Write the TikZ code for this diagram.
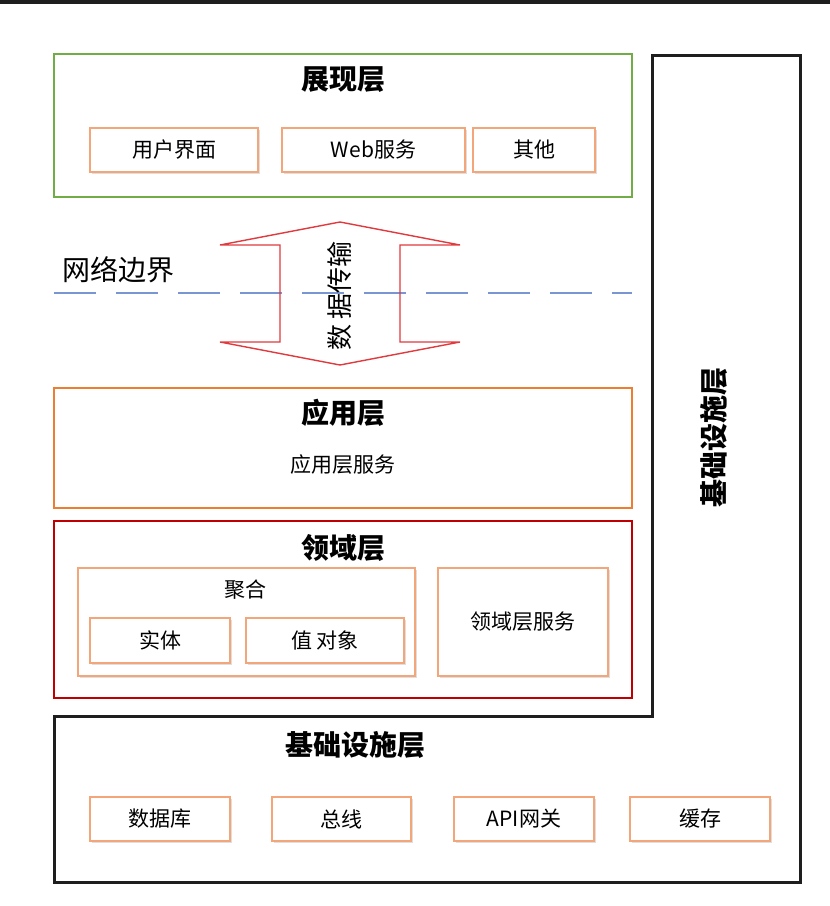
\documentclass[tikz,border=0pt]{standalone}
\usepackage{fontspec}
\setmainfont{Noto Sans CJK SC}
\usetikzlibrary{shadows}
\definecolor{presgreen}{HTML}{70AD47}
\definecolor{apporange}{HTML}{ED7D31}
\definecolor{domred}{HTML}{C00000}
\definecolor{subor}{HTML}{F2A679}
\definecolor{arrred}{HTML}{E0393E}
\definecolor{netblue}{HTML}{7A96D2}
\definecolor{infrablack}{HTML}{1E1E1E}
\begin{document}
\begin{tikzpicture}[x=1pt,y=-1pt,
  layerbox/.style={draw, line width=2.8pt, minimum width=578pt, inner sep=0pt},
  subbox/.style={draw=subor, line width=2pt, fill=white, inner sep=0pt, minimum height=44pt,
     font=\fontsize{21}{24}\selectfont,
     drop shadow={shadow xshift=1.5pt, shadow yshift=-1.5pt, opacity=0.25, fill=gray}},
  title/.style={font=\fontsize{28}{32}\selectfont\bfseries, inner sep=0pt},
  plain/.style={font=\fontsize{21}{24}\selectfont, inner sep=0pt}]
\useasboundingbox (0,0) rectangle (830,906);
\fill[infrablack] (0,0) rectangle (830,4);

% infrastructure L-shape
\draw[infrablack, line width=3pt, line join=miter]
  (652,55) -- (800,55) -- (800,882) -- (54,882) -- (54,716) -- (652,716) -- cycle;
\node[title, rotate=90] (infravert) at (714,437) {基础设施层};
\node[title] (infratitle) at (355,745) {基础设施层};
\node[subbox, minimum width=140pt] (db) at (160,819) {数据库};
\node[subbox, minimum width=139pt] (bus) at (341.5,819) {总线};
\node[subbox, minimum width=140pt] (api) at (524,819) {API网关};
\node[subbox, minimum width=140pt] (cache) at (700,819) {缓存};

% presentation layer
\node[layerbox, draw=presgreen, minimum height=143pt] (pres) at (343,125.5) {};
\node[title] (prestitle) at (343,80) {展现层};
\node[subbox, minimum width=168pt] (ui) at (174,150) {用户界面};
\node[subbox, minimum width=183pt] (web) at (373.5,150) {Web服务};
\node[subbox, minimum width=122pt] (other) at (534,150) {其他};

% network boundary
\coordinate (netL) at (54,293);
\coordinate (netR) at (632,293);
\draw[netblue, line width=2pt, dash pattern=on 42pt off 20pt] (netL) -- (netR);
\node[font=\fontsize{28}{32}\selectfont, inner sep=0pt, anchor=west] (netlabel) at (62,270) {网络边界};

% double arrow
\draw[arrred, line width=1.4pt, line join=miter]
  (340,222) -- (460,245) -- (400,245) -- (400,342) -- (460,342) -- (340,365)
  -- (220,342) -- (280,342) -- (280,245) -- (220,245) -- cycle;
\node[font=\fontsize{26}{30}\selectfont, inner sep=0pt, rotate=90] (transfer) at (340,296) {数\,据传输};

% application layer
\node[layerbox, draw=apporange, minimum height=120pt] (app) at (343,448) {};
\node[title] (apptitle) at (343,413) {应用层};
\node[plain] (appsvc) at (343,465) {应用层服务};

% domain layer
\node[layerbox, draw=domred, minimum height=177pt] (dom) at (343,609.5) {};
\node[title] (domtitle) at (343,548) {领域层};
\node[subbox, minimum width=337pt, minimum height=108pt] (agg) at (246.5,622) {};
\node[plain] (aggtitle) at (245,590) {聚合};
\node[subbox, minimum width=140pt, minimum height=45pt] (entity) at (160,640.5) {实体};
\node[subbox, minimum width=158pt, minimum height=45pt] (vo) at (325,640.5) {值\,对象};
\node[subbox, minimum width=170pt, minimum height=108pt] (domsvc) at (523,622) {领域层服务};
\end{tikzpicture}
\end{document}
